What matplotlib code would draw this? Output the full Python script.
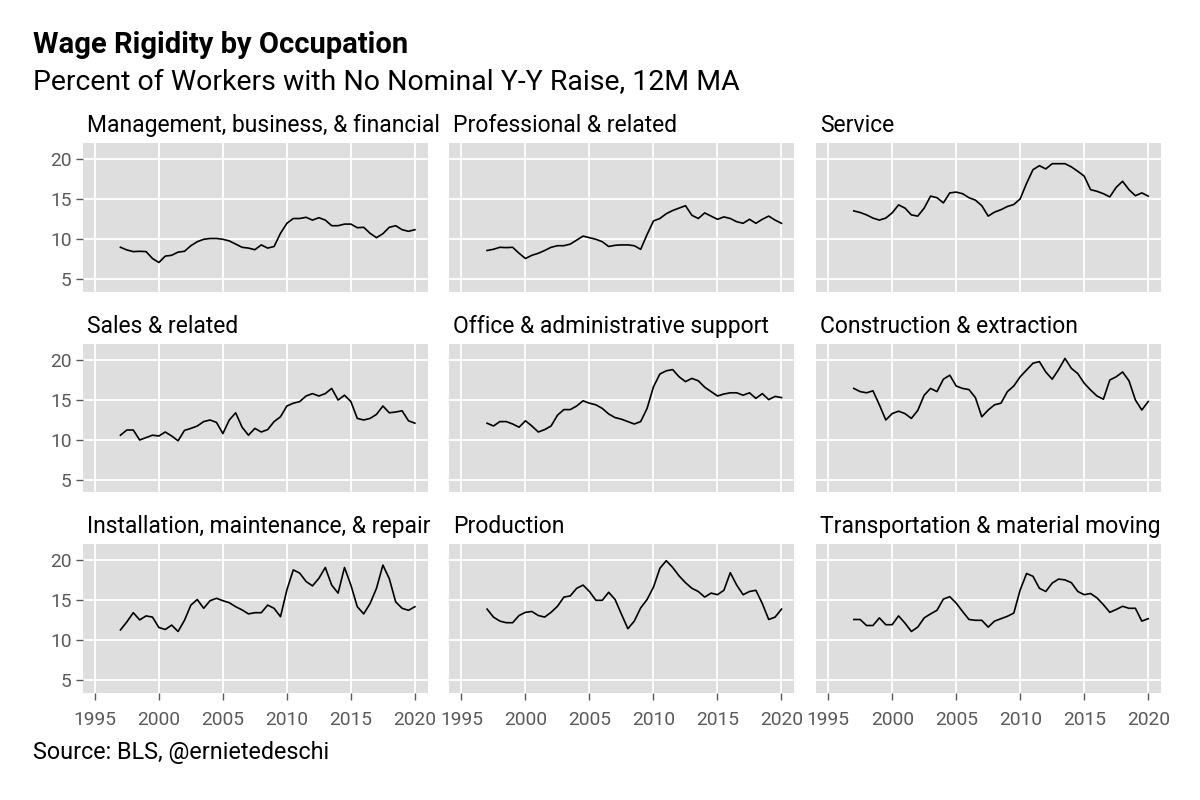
#!/usr/bin/env python

"""
Wage rigidity by occupation - 3x3 facet chart
"""

import numpy as np
import matplotlib
matplotlib.use("Agg")
import matplotlib.pyplot as plt

plt.rcParams["font.family"] = ["Roboto", "DejaVu Sans"]

"""
---------- Data (read off the reference, semiannual) ----------
"""
years = np.arange(1997, 2020.01, 0.5)

occupations = [
    "Management, business, & financial",
    "Professional & related",
    "Service",
    "Sales & related",
    "Office & administrative support",
    "Construction & extraction",
    "Installation, maintenance, & repair",
    "Production",
    "Transportation & material moving",
]

management = [9.0, 8.67, 8.46, 8.5, 8.46, 7.6, 7.1, 7.9, 8.0, 8.4, 8.5, 9.2,
              9.7, 10.0, 10.1, 10.1, 10.0, 9.8, 9.4, 9.0, 8.9, 8.7, 9.3, 8.9,
              9.1, 10.75, 12.0, 12.6, 12.6, 12.75, 12.4, 12.7, 12.4, 11.7, 11.7,
              11.9, 11.9, 11.45, 11.5, 10.75, 10.2, 10.7, 11.5, 11.7, 11.2, 11.0,
              11.2]
professional = [8.6, 8.75, 9.0, 8.96, 9.0, 8.25, 7.6, 8.0, 8.25, 8.6, 9.0, 9.2,
                9.2, 9.4, 9.9, 10.4, 10.2, 10.0, 9.7, 9.1, 9.25, 9.3, 9.3, 9.2,
                8.75, 10.6, 12.3, 12.6, 13.2, 13.6, 13.9, 14.2, 13.0, 12.6, 13.3,
                12.9, 12.5, 12.8, 12.6, 12.2, 12.0, 12.5, 12.0, 12.5, 12.9, 12.4,
                12.0]
service = [13.55, 13.35, 13.05, 12.65, 12.4, 12.65, 13.3, 14.3, 13.9, 13.05,
           12.9, 13.9, 15.4, 15.2, 14.55, 15.8, 15.9, 15.7, 15.2, 14.9, 14.2,
           12.9, 13.4, 13.7, 14.1, 14.35, 15.05, 17.0, 18.7, 19.2, 18.8, 19.45,
           19.45, 19.45, 19.05, 18.5, 17.9, 16.2, 16.0, 15.7, 15.3, 16.5, 17.25,
           16.2, 15.45, 15.8, 15.4]
sales = [10.6, 11.25, 11.25, 10.0, 10.3, 10.6, 10.5, 11.0, 10.5, 9.9, 11.2,
         11.45, 11.75, 12.3, 12.5, 12.2, 10.8, 12.5, 13.4, 11.6, 10.6, 11.45,
         11.0, 11.3, 12.3, 12.9, 14.25, 14.6, 14.8, 15.5, 15.8, 15.5, 15.8,
         16.45, 15.0, 15.6, 14.8, 12.7, 12.5, 12.7, 13.2, 14.25, 13.4, 13.5,
         13.65, 12.4, 12.1]
office = [12.1, 11.75, 12.3, 12.3, 12.0, 11.6, 12.4, 11.75, 11.0, 11.3, 11.75,
          13.1, 13.8, 13.8, 14.25, 14.9, 14.6, 14.4, 13.95, 13.25, 12.8, 12.6,
          12.3, 12.0, 12.3, 13.95, 16.65, 18.25, 18.65, 18.8, 17.9, 17.3, 17.7,
          17.4, 16.6, 16.05, 15.5, 15.75, 15.9, 15.9, 15.6, 15.9, 15.2, 15.8,
          15.05, 15.45, 15.3]
construction = [16.45, 16.05, 15.9, 16.15, 14.4, 12.5, 13.3, 13.6, 13.3, 12.7,
                13.7, 15.6, 16.45, 16.05, 17.6, 18.1, 16.75, 16.45, 16.3, 15.3,
                12.9, 13.75, 14.4, 14.6, 16.05, 16.75, 17.9, 18.75, 19.6, 19.8,
                18.5, 17.6, 18.8, 20.2, 18.95, 18.3, 17.1, 16.25, 15.5, 15.1,
                17.5, 17.9, 18.5, 17.4, 15.0, 13.75, 14.8]
installation = [11.3, 12.3, 13.45, 12.55, 13.05, 12.9, 11.6, 11.35, 11.9, 11.1,
                12.5, 14.4, 15.1, 14.0, 14.95, 15.25, 14.95, 14.7, 14.2, 13.8,
                13.3, 13.45, 13.45, 14.4, 14.0, 12.95, 16.3, 18.8, 18.4, 17.35,
                16.8, 17.75, 19.1, 16.9, 15.9, 19.1, 16.9, 14.2, 13.3, 14.6,
                16.5, 19.4, 17.7, 14.8, 14.0, 13.75, 14.2]
production = [13.9, 12.9, 12.4, 12.2, 12.2, 13.1, 13.5, 13.6, 13.1, 12.9, 13.5,
              14.25, 15.4, 15.55, 16.5, 16.9, 16.1, 15.0, 15.0, 16.0, 15.1,
              13.25, 11.45, 12.4, 14.05, 15.1, 16.65, 19.0, 19.95, 19.1, 18.05,
              17.2, 16.5, 16.1, 15.4, 15.9, 15.7, 16.25, 18.45, 16.9, 15.7, 16.1,
              16.25, 14.6, 12.6, 12.9, 13.9]
transportation = [12.6, 12.6, 11.85, 11.85, 12.8, 11.95, 11.95, 13.05, 12.15,
                  11.1, 11.65, 12.8, 13.3, 13.75, 15.15, 15.45, 14.65, 13.6,
                  12.6, 12.5, 12.5, 11.65, 12.4, 12.7, 13.0, 13.4, 16.3, 18.35,
                  18.0, 16.5, 16.1, 17.15, 17.65, 17.55, 17.2, 16.1, 15.7, 15.85,
                  15.3, 14.45, 13.5, 13.85, 14.25, 14.0, 14.0, 12.4, 12.7]

series = [management, professional, service, sales, office, construction,
          installation, production, transportation]

x_ticks = [1995, 2000, 2005, 2010, 2015, 2020]
y_ticks = [5, 10, 15, 20]

"""
---------- Plot ----------
"""


def style_panel(ax, show_x, show_y):
    ax.set_facecolor("#dedede")
    for spine in ax.spines.values():
        spine.set_visible(False)
    ax.set_xlim(1994.05, 2021.0)
    ax.set_ylim(3.45, 22.0)
    ax.set_xticks(x_ticks)
    ax.set_yticks(y_ticks)
    ax.grid(True, color="white", linewidth=1.3)
    ax.set_axisbelow(True)
    ax.tick_params(axis="both", colors="#5a5a5a", labelcolor="#5a5a5a",
                   labelsize=13.8, length=5, width=1)
    ax.tick_params(axis="x", pad=8)
    ax.tick_params(axis="y", pad=3)
    if not show_x:
        ax.tick_params(axis="x", length=0, labelbottom=False)
    if not show_y:
        ax.tick_params(axis="y", length=0, labelleft=False)


def main():
    fig = plt.figure(figsize=(12, 8), dpi=100)

    lefts = [82.7, 449.3, 816.0]
    tops = [143.3, 344.0, 544.3]
    width_px, height_px = 345.0, 148.4

    for i, (name, values) in enumerate(zip(occupations, series)):
        row, col = divmod(i, 3)
        ax = fig.add_axes([lefts[col] / 1200, 1 - (tops[row] + height_px) / 800,
                           width_px / 1200, height_px / 800])
        style_panel(ax, show_x=(row == 2), show_y=(col == 0))
        ax.plot(years, values, color="black", linewidth=1.2)
        ax.text(0.012, 1.12, name, transform=ax.transAxes, fontsize=16.5,
                ha="left", va="center", color="black")

    fig.text(33 / 1200, 1 - 45 / 800, "Wage Rigidity by Occupation",
             fontsize=21, fontweight="bold", ha="left", va="center")
    fig.text(33 / 1200, 1 - 83 / 800,
             "Percent of Workers with No Nominal Y-Y Raise, 12M MA",
             fontsize=20.5, ha="left", va="center")
    fig.text(33 / 1200, 1 - 752 / 800, "Source: BLS, @ernietedeschi",
             fontsize=16.8, ha="left", va="center")

    fig.savefig("out.png", dpi=100, facecolor="white")


if __name__ == "__main__":
    main()
